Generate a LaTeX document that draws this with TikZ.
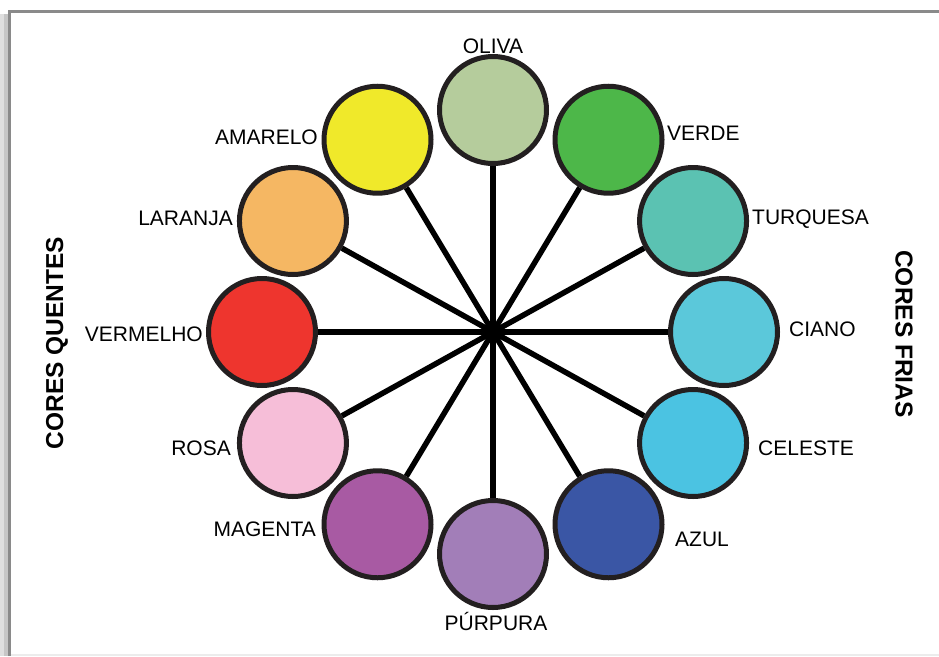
\documentclass[tikz,border=0pt]{standalone}
\usepackage{fontspec}
\setmainfont{Liberation Sans}
\definecolor{ink}{HTML}{231F20}
\definecolor{cOliva}{HTML}{B5CC9C}
\definecolor{cVerde}{HTML}{4DB749}
\definecolor{cTurq}{HTML}{5BC2B2}
\definecolor{cCiano}{HTML}{5BC8DA}
\definecolor{cCeleste}{HTML}{4BC3E2}
\definecolor{cAzul}{HTML}{3A56A5}
\definecolor{cPurpura}{HTML}{A27EB8}
\definecolor{cMagenta}{HTML}{A85AA3}
\definecolor{cRosa}{HTML}{F6BED8}
\definecolor{cVermelho}{HTML}{EE352E}
\definecolor{cLaranja}{HTML}{F5B763}
\definecolor{cAmarelo}{HTML}{F0E92A}
\definecolor{frame}{HTML}{8A8A8A}
\begin{document}
\begin{tikzpicture}[x=1pt,y=-1pt,
  swatch/.style={circle,draw=ink,line width=5pt,minimum size=107pt,inner sep=0pt},
  spoke/.style={line width=5.5pt,black},
  lbl/.style={font=\fontsize{21}{22}\selectfont,inner sep=0pt,text=black},
  side/.style={font=\bfseries\fontsize{24.5}{26}\selectfont,inner sep=0pt,text=black}]
\useasboundingbox (0,0) rectangle (939,656);
\fill[white] (0,0) rectangle (939,656);
% frame and shadow
\fill[gray!25] (0,14) rectangle (8,656);
\fill[gray!45] (4,14) rectangle (8,656);
\fill[gray!15] (8,654) rectangle (939,656);
\draw[frame,line width=3pt] (9.5,656) -- (9.5,11) -- (939,11);
% center
\coordinate (c) at (493,332);
\foreach \n/\a/\col in {oliva/90/cOliva, verde/60/cVerde, turq/30/cTurq, ciano/0/cCiano,
  celeste/-30/cCeleste, azul/-60/cAzul, purpura/-90/cPurpura, magenta/-120/cMagenta,
  rosa/-150/cRosa, vermelho/180/cVermelho, laranja/150/cLaranja, amarelo/120/cAmarelo}{
  \node[swatch,fill=\col] (\n) at ({493+231*cos(\a)},{332-222*sin(\a)}) {};
}
\foreach \n in {oliva,verde,turq,ciano,celeste,azul,purpura,magenta,rosa,vermelho,laranja,amarelo}{
  \draw[spoke] (c) -- (\n);
}
% labels
\node[lbl,anchor=base] (l1) at (493,53) {OLIVA};
\node[lbl,anchor=base west] (l2) at (667,140) {VERDE};
\node[lbl,anchor=base west] (l3) at (752,224) {TURQUESA};
\node[lbl,anchor=base west] (l4) at (789,336) {CIANO};
\node[lbl,anchor=base west] (l5) at (758,455) {CELESTE};
\node[lbl,anchor=base west] (l6) at (675,546) {AZUL};
\node[lbl,anchor=base] (l7) at (496,630) {PÚRPURA};
\node[lbl,anchor=base east] (l8) at (316,536) {MAGENTA};
\node[lbl,anchor=base east] (l9) at (231,455) {ROSA};
\node[lbl,anchor=base east] (l10) at (203,341) {VERMELHO};
\node[lbl,anchor=base east] (l11) at (233,225) {LARANJA};
\node[lbl,anchor=base east] (l12) at (318,144) {AMARELO};
\node[side,rotate=90] (q) at (57,343) {CORES QUENTES};
\node[side,rotate=-90] (f) at (904,334) {CORES FRIAS};
\end{tikzpicture}
\end{document}
